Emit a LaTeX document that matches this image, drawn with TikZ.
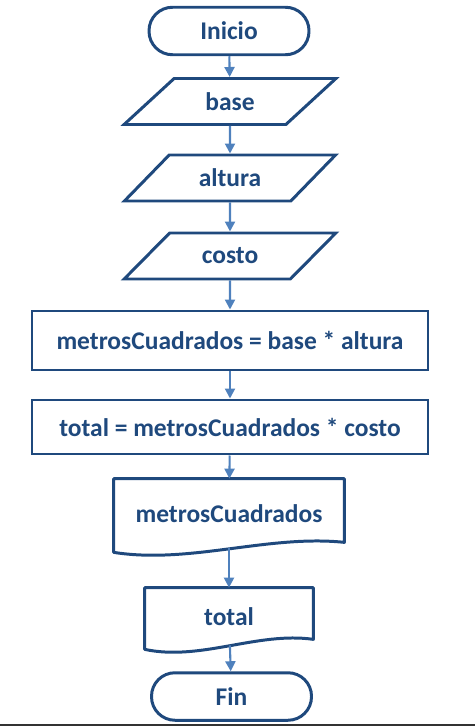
\documentclass[tikz,border=0pt]{standalone}
\usepackage{fontspec}
\setmainfont{Carlito}
\usetikzlibrary{shapes.geometric,arrows.meta,calc}

\definecolor{azul}{RGB}{31,73,125}
\definecolor{flecha}{RGB}{79,129,189}

% borde de documento (lado inferior ondulado)
\newcommand{\docborde}[1]{%
  \draw[azul, line width=1.7pt, line join=round] (#1.north west) -- (#1.north east)
    -- ([yshift=0.12cm]#1.south east)
    .. controls ($(#1.south west)!0.67!(#1.south east)+(0,0.28)$)
    and ($(#1.south west)!0.33!(#1.south east)+(0,-0.32)$) .. ([yshift=-0.08cm]#1.south west)
    -- cycle;}

\begin{document}
\begin{tikzpicture}[font=\fontsize{14.5}{17}\selectfont\bfseries,
    >={Triangle[length=2mm,width=2mm]},
    term/.style={draw=azul, line width=1.7pt, rounded corners=0.47cm, minimum width=3.2cm, minimum height=0.95cm, text=azul},
    io/.style={trapezium, trapezium left angle=47.5, trapezium right angle=132.5, trapezium stretches=true, draw=azul, line width=1.7pt, minimum width=4.24cm, minimum height=0.92cm, text=azul},
    proc/.style={rectangle, draw=azul, line width=1.7pt, minimum width=7.92cm, text=azul},
    doc/.style={rectangle, text=azul}]
    \useasboundingbox (0,0) rectangle (9.5,-14.52);
    \node[term] at (4.58, -0.62) (inicio) {Inicio};
    \node[io] at (4.6, -2.03) (base) {base};
    \node[io] at (4.6, -3.56) (altura) {altura};
    \node[io] at (4.6, -5.12) (costo) {costo};
    \node[proc, minimum height=1.18cm] at (4.6, -6.81) (metros) {metrosCuadrados = base * altura};
    \node[proc, minimum height=1.08cm] at (4.6, -8.54) (total) {total = metrosCuadrados * costo};
    \node[doc, minimum width=4.6cm, minimum height=1.38cm] at (4.58, -10.27) (smetros) {metrosCuadrados};
    \node[doc, minimum width=3.36cm, minimum height=1.14cm] at (4.58, -12.33) (stotal) {total};
    \node[term] at (4.63, -13.93) (fin) {Fin};
    \docborde{smetros}
    \docborde{stotal}
    \draw[->, flecha, line width=1.2pt]
    (inicio) edge (base)
    (base) edge (altura)
    (altura) edge (costo)
    (costo) edge (metros)
    (metros) edge (total)
    (total) edge (smetros)
    (smetros) edge (stotal)
    (stotal) edge (fin);
    \draw[black!80, line width=1.1pt] (0, -14.5) -- (9.5, -14.5);
\end{tikzpicture}
\end{document}
